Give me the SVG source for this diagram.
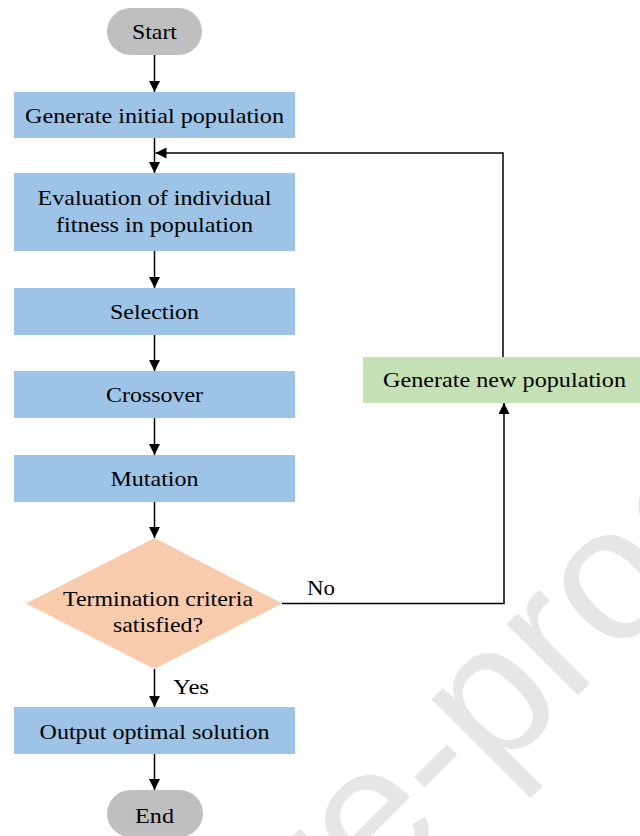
<svg xmlns="http://www.w3.org/2000/svg" width="640" height="836" viewBox="0 0 640 836">
<style>
.t{font-family:"Liberation Serif","Times New Roman",serif;font-size:22px;fill:#000}
.m{text-anchor:middle}
.box{fill:#9DC3E6}
.term{fill:#BFBFBF}
.c{fill:none;stroke:#000;stroke-width:1.5}
</style>
<defs>
<marker id="ah" markerUnits="userSpaceOnUse" markerWidth="12" markerHeight="11" refX="11" refY="5.5" orient="auto">
<path d="M0,0 L11,5.5 L0,11 z" fill="#000"/>
</marker>
</defs>
<rect width="640" height="836" fill="#fff"/>
<text x="-238" y="1511" transform="rotate(-45 -238 1511)" font-family="'Liberation Sans', Arial, sans-serif" font-size="190" fill="#e6e6e6">Journal Pre-proof</text>

<g id="start"><rect class="term" x="107" y="8" width="95" height="47" rx="23.5"/><text class="t m" x="154.5" y="39" textLength="45" lengthAdjust="spacingAndGlyphs">Start</text></g>
<g id="init"><rect class="box" x="14" y="92" width="281" height="46"/><text class="t m" x="154.5" y="123" textLength="259" lengthAdjust="spacingAndGlyphs">Generate initial population</text></g>
<g id="eval"><rect class="box" x="14" y="173" width="281" height="78"/><text class="t m" x="154.5" y="205" textLength="234" lengthAdjust="spacingAndGlyphs">Evaluation of individual</text><text class="t m" x="154.5" y="232" textLength="197" lengthAdjust="spacingAndGlyphs">fitness in population</text></g>
<g id="select"><rect class="box" x="14" y="288" width="281" height="47"/><text class="t m" x="154.5" y="319" textLength="89" lengthAdjust="spacingAndGlyphs">Selection</text></g>
<g id="cross"><rect class="box" x="14" y="371" width="281" height="47"/><text class="t m" x="154.5" y="402" textLength="97" lengthAdjust="spacingAndGlyphs">Crossover</text></g>
<g id="mut"><rect class="box" x="14" y="455" width="281" height="47"/><text class="t m" x="154.5" y="486" textLength="88" lengthAdjust="spacingAndGlyphs">Mutation</text></g>
<g id="decision"><polygon points="154.5,538 282,603.5 154.5,669 26,603.5" fill="#F8CBAD"/><text class="t m" x="158" y="606" textLength="190" lengthAdjust="spacingAndGlyphs">Termination criteria</text><text class="t m" x="158" y="632" textLength="90" lengthAdjust="spacingAndGlyphs">satisfied?</text></g>
<g id="output"><rect class="box" x="14" y="707" width="281" height="47"/><text class="t m" x="154.5" y="739" textLength="230" lengthAdjust="spacingAndGlyphs">Output optimal solution</text></g>
<g id="end"><rect class="term" x="107" y="790" width="96" height="47" rx="23.5"/><text class="t m" x="154.5" y="823" textLength="39" lengthAdjust="spacingAndGlyphs">End</text></g>
<g id="newpop"><rect x="363" y="357" width="277" height="46" fill="#C5E0B4"/><text class="t m" x="504.5" y="387" textLength="243" lengthAdjust="spacingAndGlyphs">Generate new population</text></g>

<g id="connectors">
<path class="c" d="M154.5,55 V92" marker-end="url(#ah)"/>
<path class="c" d="M154.5,138 V173" marker-end="url(#ah)"/>
<path class="c" d="M503,357 V153 H155.5" marker-end="url(#ah)"/>
<path class="c" d="M154.5,251 V288" marker-end="url(#ah)"/>
<path class="c" d="M154.5,335 V371" marker-end="url(#ah)"/>
<path class="c" d="M154.5,418 V455" marker-end="url(#ah)"/>
<path class="c" d="M154.5,502 V538" marker-end="url(#ah)"/>
<path class="c" d="M154.5,669 V707" marker-end="url(#ah)"/>
<path class="c" d="M154.5,754 V790" marker-end="url(#ah)"/>
<path class="c" d="M282,603.5 H504 V403" marker-end="url(#ah)"/>
<text class="t" x="173" y="694" textLength="36" lengthAdjust="spacingAndGlyphs">Yes</text>
<text class="t" x="307" y="595" textLength="28" lengthAdjust="spacingAndGlyphs">No</text>
</g>
</svg>
